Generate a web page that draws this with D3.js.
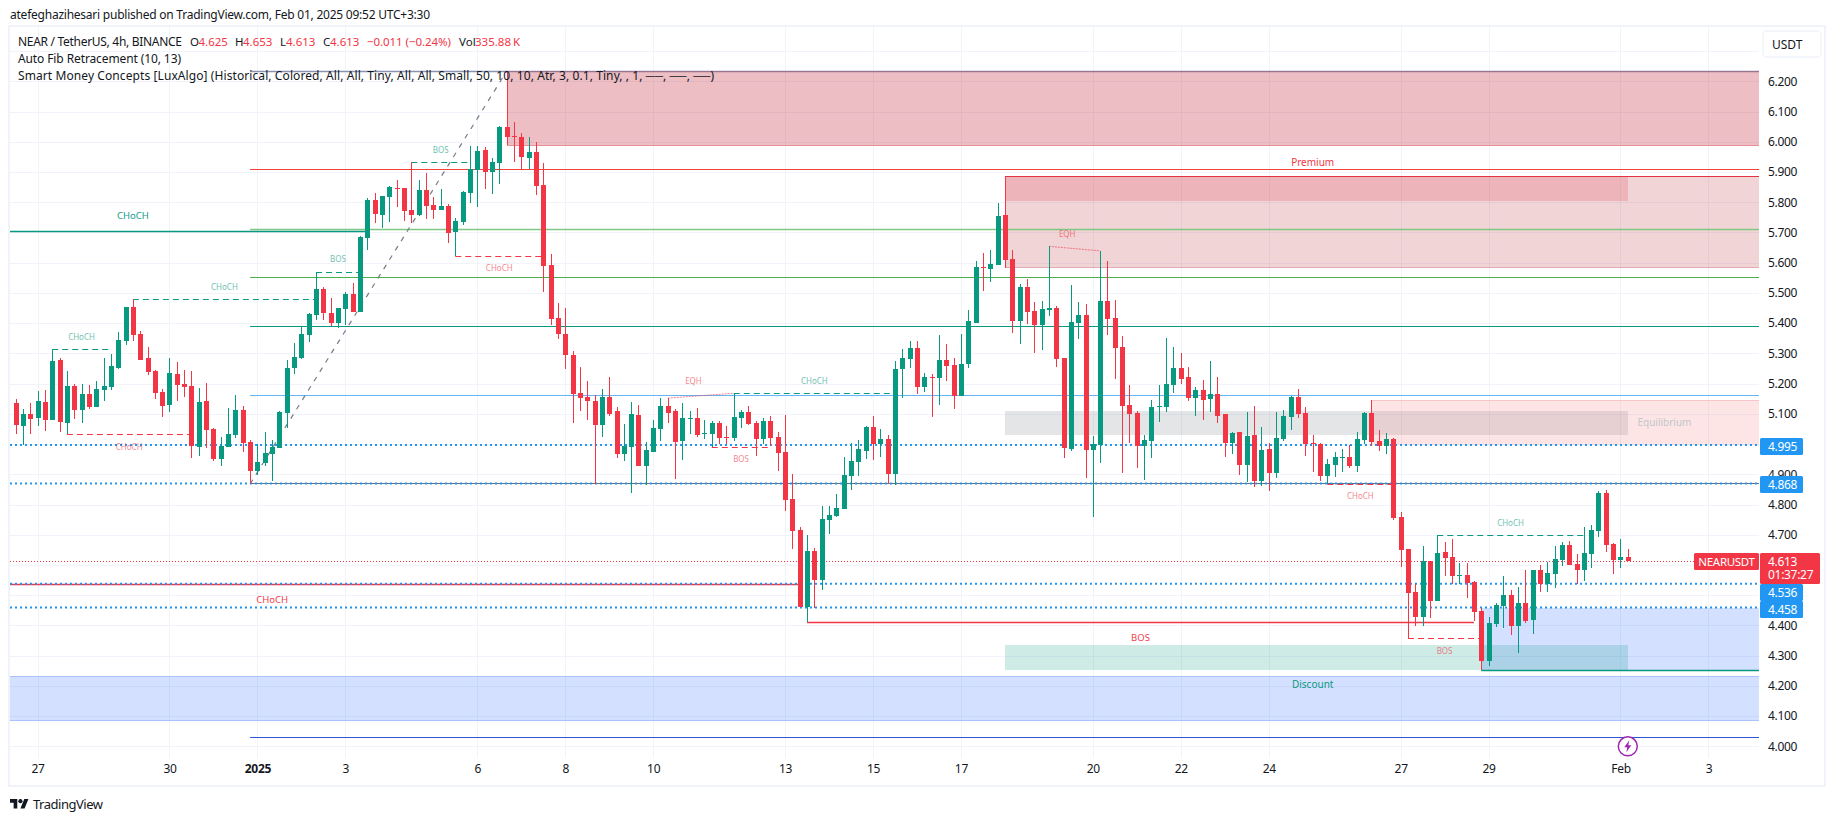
<!DOCTYPE html>
<html>
<head>
<meta charset="utf-8">
<title>NEAR / TetherUS</title>
<script src="https://cdn.jsdelivr.net/npm/d3@7/dist/d3.min.js"></script>
<style>
  html, body { margin: 0; padding: 0; background: #fff; }
  svg { display: block; }
  text { font-family: "Noto Sans", sans-serif; fill: #131722; }
</style>
</head>
<body>
<div id="chart"></div>
<script>
// 4h candles, first bar is Dec 26 12:00
const opens = [
  5.136,5.060,5.099,5.086,5.139,5.080,5.278,5.070,5.192,5.113,
  5.166,5.123,5.179,5.189,5.252,5.341,5.453,5.364,5.285,5.242,
  5.172,5.129,5.232,5.199,5.192,4.990,5.142,5.050,4.951,4.990,
  5.030,5.113,5.007,4.911,4.937,4.967,4.987,5.103,5.252,5.285,
  5.361,5.427,5.513,5.434,5.400,5.447,5.496,5.437,5.682,5.807,
  5.758,5.817,5.847,5.847,5.774,5.758,5.840,5.791,5.774,5.787,
  5.701,5.735,5.830,5.906,5.973,5.900,5.930,6.049,6.019,6.016,
  5.946,5.966,5.857,5.592,5.417,5.364,5.295,5.169,5.156,5.142,
  5.063,5.156,5.109,4.967,4.990,5.096,4.927,4.974,5.050,5.126,
  5.109,5.010,5.083,5.086,5.033,5.033,5.070,5.023,5.020,5.086,
  5.106,5.070,5.017,5.076,5.023,4.974,4.818,4.716,4.461,4.646,
  4.550,4.749,4.762,4.785,4.894,4.941,4.977,5.056,5.000,5.017,
  4.901,5.248,5.281,5.318,5.189,5.222,5.218,5.278,5.262,5.159,
  5.265,5.400,5.586,5.579,5.592,5.758,5.612,5.407,5.520,5.440,
  5.394,5.443,5.450,5.285,4.984,5.400,5.427,4.980,4.997,5.473,
  5.417,5.321,5.129,5.103,4.994,5.010,5.123,5.123,5.195,5.252,
  5.222,5.152,5.179,5.149,5.166,5.099,5.003,5.040,4.931,5.030,
  4.878,4.984,4.904,5.017,5.090,5.156,5.103,5.003,5.000,4.894,
  4.931,4.954,4.957,4.927,5.013,5.103,5.010,4.994,5.017,4.759,
  4.653,4.511,4.428,4.613,4.481,4.643,4.626,4.564,4.567,4.544,
  4.448,4.282,4.405,4.464,4.501,4.398,4.474,4.418,4.583,4.537,
  4.570,4.617,4.666,4.603,4.583,4.636,4.712,4.838,4.669,4.617,4.625
]
const highs = [
  5.149,5.116,5.136,5.176,5.179,5.313,5.285,5.242,5.199,5.199,
  5.195,5.209,5.285,5.298,5.371,5.453,5.479,5.374,5.321,5.245,
  5.182,5.285,5.271,5.245,5.242,5.185,5.202,5.053,5.023,5.119,
  5.162,5.126,5.013,5.000,5.040,5.013,5.109,5.278,5.334,5.390,
  5.434,5.570,5.518,5.483,5.450,5.504,5.533,5.688,5.814,5.831,
  5.821,5.854,5.874,5.847,5.933,5.874,5.897,5.817,5.844,5.794,
  5.748,5.837,5.986,5.986,5.983,5.946,6.052,6.233,6.065,6.029,
  6.016,5.999,5.930,5.629,5.467,5.450,5.308,5.255,5.209,5.162,
  5.182,5.222,5.123,5.066,5.139,5.129,5.007,5.080,5.152,5.152,
  5.116,5.136,5.109,5.119,5.080,5.076,5.076,5.060,5.168,5.113,
  5.126,5.076,5.086,5.093,5.040,5.096,4.901,4.726,4.699,4.656,
  4.795,4.795,4.835,4.957,5.003,5.013,5.060,5.093,5.050,5.030,
  5.275,5.314,5.341,5.341,5.235,5.232,5.361,5.331,5.285,5.364,
  5.443,5.606,5.632,5.642,5.797,5.887,5.642,5.529,5.546,5.470,
  5.473,5.654,5.457,5.285,5.526,5.470,5.463,5.027,5.639,5.605,
  5.476,5.357,5.195,5.109,5.030,5.146,5.195,5.351,5.321,5.301,
  5.255,5.189,5.212,5.275,5.222,5.099,5.040,5.040,5.106,5.126,
  5.056,5.003,5.106,5.113,5.159,5.182,5.123,5.030,5.003,4.951,
  4.974,4.984,4.997,5.040,5.106,5.146,5.046,5.037,5.020,4.775,
  4.653,4.537,4.664,4.613,4.698,4.676,4.686,4.607,4.607,4.547,
  4.458,4.428,4.474,4.564,4.517,4.527,4.583,4.583,4.600,4.610,
  4.663,4.676,4.679,4.636,4.726,4.732,4.845,4.848,4.673,4.686,4.653
]
const lows = [
  5.033,4.997,5.033,5.060,5.043,5.078,5.040,5.032,5.083,5.070,
  5.116,5.123,5.142,5.179,5.248,5.328,5.341,5.278,5.228,5.149,
  5.090,5.106,5.142,5.156,4.954,4.960,4.987,4.944,4.927,4.990,
  5.020,4.974,4.869,4.898,4.927,4.878,4.987,5.053,5.232,5.281,
  5.338,5.410,5.410,5.391,5.384,5.394,5.437,5.437,5.642,5.731,
  5.715,5.735,5.784,5.738,5.731,5.754,5.744,5.744,5.774,5.665,
  5.622,5.725,5.797,5.784,5.844,5.827,5.860,5.989,5.933,5.907,
  5.910,5.824,5.503,5.394,5.348,5.248,5.070,5.109,5.080,4.869,
  5.023,5.093,4.954,4.944,4.838,4.927,4.865,4.974,5.010,5.070,
  4.884,4.947,5.033,5.023,5.017,4.990,5.000,5.000,5.010,5.053,
  5.063,4.960,5.000,4.994,4.911,4.779,4.653,4.461,4.412,4.458,
  4.517,4.702,4.759,4.785,4.848,4.894,4.951,4.947,4.957,4.869,
  4.865,5.152,5.252,5.166,5.172,5.090,5.129,5.209,5.116,5.159,
  5.252,5.400,5.506,5.536,5.592,5.582,5.367,5.331,5.397,5.301,
  5.311,5.424,5.255,4.954,4.977,5.348,4.888,4.759,4.937,5.361,
  5.215,4.904,5.003,4.921,4.881,4.954,5.073,5.106,5.169,5.199,
  5.142,5.093,5.080,5.106,5.070,4.957,4.967,4.898,4.874,4.858,
  4.861,4.845,4.888,5.010,5.046,5.086,4.960,4.907,4.878,4.868,
  4.891,4.907,4.921,4.907,5.000,4.994,4.977,4.967,4.749,4.593,
  4.357,4.398,4.398,4.425,4.481,4.564,4.537,4.537,4.491,4.415,
  4.253,4.266,4.395,4.392,4.368,4.309,4.408,4.372,4.511,4.511,
  4.524,4.597,4.600,4.537,4.547,4.590,4.693,4.643,4.570,4.590,4.613
]
const closes = [
  5.063,5.099,5.083,5.142,5.080,5.275,5.073,5.192,5.113,5.166,
  5.123,5.182,5.192,5.258,5.344,5.453,5.361,5.278,5.238,5.169,
  5.126,5.235,5.195,5.189,4.994,5.139,5.046,4.951,4.994,5.033,
  5.113,5.003,4.911,4.941,4.970,4.990,5.106,5.252,5.288,5.364,
  5.430,5.513,5.434,5.400,5.450,5.496,5.437,5.685,5.807,5.761,
  5.821,5.850,5.845,5.771,5.758,5.840,5.787,5.774,5.787,5.698,
  5.738,5.834,5.910,5.969,5.900,5.933,6.049,6.016,6.017,5.950,
  5.966,5.854,5.589,5.414,5.364,5.295,5.166,5.152,5.142,5.063,
  5.156,5.099,4.967,4.994,5.099,4.927,4.980,5.053,5.126,5.103,
  5.007,5.086,5.086,5.030,5.037,5.070,5.020,5.020,5.090,5.106,
  5.066,5.017,5.076,5.020,4.970,4.815,4.712,4.461,4.646,4.550,
  4.752,4.765,4.788,4.898,4.944,4.984,5.056,5.000,5.017,4.901,
  5.248,5.285,5.318,5.189,5.222,5.218,5.278,5.258,5.159,5.265,
  5.407,5.586,5.584,5.596,5.754,5.609,5.407,5.520,5.437,5.394,
  5.447,5.450,5.281,4.987,5.404,5.427,4.980,5.000,5.473,5.414,
  5.318,5.126,5.099,4.994,5.013,5.123,5.126,5.199,5.252,5.215,
  5.152,5.179,5.146,5.166,5.093,5.003,5.037,4.931,5.027,4.878,
  4.980,4.904,5.020,5.093,5.156,5.099,5.000,5.000,4.894,4.934,
  4.957,4.957,4.927,5.017,5.103,5.007,4.994,5.017,4.755,4.650,
  4.507,4.428,4.613,4.481,4.640,4.623,4.564,4.567,4.540,4.445,
  4.282,4.408,4.468,4.501,4.398,4.474,4.415,4.583,4.537,4.574,
  4.620,4.666,4.600,4.583,4.640,4.716,4.838,4.666,4.617,4.626,4.613
]

// axis ticks: bar index of each day gridline and its label
const timeTickBars = [3, 21, 33, 45, 63, 75, 87, 105, 117, 129, 147, 159, 171, 189, 201, 219, 231]
const timeTickLabels = ["27", "30", "2025", "3", "6", "8", "10", "13", "15", "17", "20", "22", "24", "27", "29", "Feb", "3"]
const priceTicks = [4.0, 4.1, 4.2, 4.3, 4.4, 4.5, 4.6, 4.7, 4.8, 4.9, 5.0, 5.1, 5.2, 5.3, 5.4, 5.5, 5.6, 5.7, 5.8, 5.9, 6.0, 6.1, 6.2, 6.3]
// these sit behind the price tags in the picture, so no label is shown for them
const hiddenPriceLabels = [4.5, 4.6, 5.0, 6.3]

// auto fib levels
const fibPrices = [6.233, 5.911, 5.712, 5.552, 5.390, 5.161, 4.870, 4.030]
const fibAnchorBars = [32, 67]
const fibAnchorPrices = [4.868, 6.233]

// horizontal dotted levels
const dottedLevels = [4.995, 4.868, 4.536, 4.458]
const lastPrice = 4.613

// internal structure breaks (tiny dashed)
const internalLabels = ["CHoCH", "CHoCH", "BOS", "BOS", "CHoCH", "CHoCH", "CHoCH", "BOS", "CHoCH", "CHoCH", "BOS"]
const internalFrom = [5, 16, 41, 54, 7, 60, 98, 95, 179, 194, 190]
const internalTo = [13, 41, 47, 62, 24, 72, 120, 103, 188, 214, 200]
const internalPrice = [5.313, 5.479, 5.570, 5.932, 5.032, 5.623, 5.168, 4.990, 4.869, 4.698, 4.357]
const internalBull = [true, true, true, true, false, false, true, false, false, true, false]

// swing structure breaks (solid)
const swingLabels = ["CHoCH", "CHoCH", "BOS"]
const swingFrom = [-16, -37, 108]
const swingTo = [48, 107, 199]
const swingPrice = [5.704, 4.536, 4.412]
const swingBull = [true, false, false]

// equal highs
const eqhFromBar = [89, 141]
const eqhToBar = [98, 148]
const eqhFromPrice = [5.152, 5.654]
const eqhToPrice = [5.168, 5.639]

// zones, bar range and price range
const zoneNames = ["obTop", "premiumOuter", "premiumInner", "equilibriumBox", "pinkBox", "blueBox", "greenBox", "discountBand"]
const zoneFrom = [67, 135, 135, 135, 185, 200, 135, -2]
const zoneTo = [238, 238, 220, 220, 238, 238, 220, 238]
const zoneHigh = [6.233, 5.887, 5.887, 5.110, 5.145, 4.458, 4.335, 4.233]
const zoneLow = [5.990, 5.585, 5.804, 5.031, 4.996, 4.250, 4.254, 4.086]

const priceTags = [4.995, 4.868, 4.536, 4.458]

const width = 1835
const height = 821
const paneLeft = 10
const paneRight = 1759
const paneTop = 27
const paneBottom = 758

const GREEN = "#089981"
const RED = "#f23645"
const BLUE = "#2196f3"

const fibColors = ["#8b93b5", "#f44336", "#81c784", "#4caf50", "#089981", "#64b5f6", "#6b6e7a", "#2f55d4"]
const zoneFills = ["rgba(195,40,55,0.3)", "rgba(178,40,51,0.2)", "rgba(225,54,69,0.2)", "rgba(120,123,134,0.2)",
  "rgba(247,124,128,0.2)", "rgba(41,98,255,0.2)", "rgba(8,153,129,0.2)", "rgba(41,98,255,0.2)"]
const zoneTopEdge = [null, "#e5303f", null, null, "#f9c5c8", null, null, "#a9c4fb"]
const zoneBottomEdge = ["#e88f97", "#e3a9ae", null, null, null, null, null, "#a9c4fb"]

const x = d3.scaleLinear().domain([0, 220]).range([15.6, 1627.8])
const y = d3.scaleLinear().domain([3.9615, 6.3796]).range([paneBottom, paneTop])

const svg = d3.select("#chart").append("svg").attr("width", width).attr("height", height)

svg.append("rect").attr("width", width).attr("height", height).attr("fill", "#fff")

// outer frame
svg.append("rect")
  .attr("x", 9).attr("y", 26).attr("width", 1816).attr("height", 760)
  .attr("fill", "none").attr("stroke", "#f0f3fa").attr("stroke-width", 2)

svg.append("clipPath").attr("id", "pane").append("rect")
  .attr("x", paneLeft).attr("y", paneTop)
  .attr("width", paneRight - paneLeft).attr("height", paneBottom - paneTop)

const pane = svg.append("g").attr("clip-path", "url(#pane)")

// Grid
pane.append("g").selectAll("line").data(priceTicks).enter().append("line")
  .attr("x1", paneLeft).attr("x2", paneRight)
  .attr("y1", d => Math.round(y(d)) + 0.5).attr("y2", d => Math.round(y(d)) + 0.5)
  .attr("stroke", "#f0f3fa")
pane.append("g").selectAll("line").data(timeTickBars).enter().append("line")
  .attr("x1", d => Math.round(x(d)) + 0.5).attr("x2", d => Math.round(x(d)) + 0.5)
  .attr("y1", paneTop).attr("y2", paneBottom)
  .attr("stroke", "#f0f3fa")

// Fib top line sits under the zones
function hLine(g, fromX, toX, price, color, w, dash) {
  const py = Math.round(y(price)) + 0.5
  return g.append("line")
    .attr("x1", fromX).attr("x2", toX).attr("y1", py).attr("y2", py)
    .attr("stroke", color).attr("stroke-width", w)
    .attr("stroke-dasharray", dash || null)
}

fibPrices.forEach((p, i) => {
  if (i === 0) hLine(pane, x(fibAnchorBars[0]), paneRight, p, fibColors[i], 1.5)
})

// Zones
zoneNames.forEach((name, i) => {
  const x0 = Math.round(x(zoneFrom[i]))
  const x1 = Math.round(x(zoneTo[i]))
  const top = Math.round(y(zoneHigh[i]))
  const bottom = Math.round(y(zoneLow[i]))
  pane.append("rect")
    .attr("class", name)
    .attr("x", x0).attr("y", top).attr("width", x1 - x0).attr("height", bottom - top)
    .attr("fill", zoneFills[i])
  if (zoneTopEdge[i]) hLine(pane, x0, x1, zoneHigh[i], zoneTopEdge[i], 1)
  if (zoneBottomEdge[i]) hLine(pane, x0, x1, zoneLow[i], zoneBottomEdge[i], 1)
})

// Fib levels and dashed anchor line
fibPrices.forEach((p, i) => {
  if (i > 0) hLine(pane, x(fibAnchorBars[0]), paneRight, p, fibColors[i], i === 2 ? 1.5 : 1.2)
})
pane.append("line")
  .attr("x1", x(fibAnchorBars[0])).attr("y1", y(fibAnchorPrices[0]))
  .attr("x2", x(fibAnchorBars[1])).attr("y2", y(fibAnchorPrices[1]))
  .attr("stroke", "#787b86").attr("stroke-width", 1.2).attr("stroke-dasharray", "5 6")

// Swing lines, the teal one closes the blue box
swingLabels.forEach((_, i) => {
  hLine(pane, x(swingFrom[i]), x(swingTo[i]), swingPrice[i], swingBull[i] ? GREEN : RED, 1.4)
})
hLine(pane, x(200), paneRight, 4.251, GREEN, 1.5)

// Dotted levels
dottedLevels.forEach(p => {
  pane.append("line")
    .attr("x1", paneLeft).attr("x2", paneRight)
    .attr("y1", y(p) - 0.5).attr("y2", y(p) - 0.5)
    .attr("stroke", BLUE).attr("stroke-width", 2).attr("stroke-dasharray", "2 3")
})
pane.append("line")
  .attr("x1", paneLeft).attr("x2", paneRight)
  .attr("y1", Math.round(y(lastPrice)) + 0.5).attr("y2", Math.round(y(lastPrice)) + 0.5)
  .attr("stroke", RED).attr("stroke-dasharray", "1 2")

// Internal dashed lines
internalLabels.forEach((_, i) => {
  hLine(pane, x(internalFrom[i]), x(internalTo[i]), internalPrice[i], internalBull[i] ? GREEN : RED, 1, "6 4")
})

// EQH dotted connectors
eqhFromBar.forEach((b, i) => {
  pane.append("line")
    .attr("x1", x(b)).attr("y1", y(eqhFromPrice[i]))
    .attr("x2", x(eqhToBar[i])).attr("y2", y(eqhToPrice[i]))
    .attr("stroke", RED).attr("stroke-width", 1).attr("stroke-dasharray", "2 1").attr("opacity", 0.6)
})

// Candles
const bars = d3.range(opens.length)
const candles = pane.append("g").attr("shape-rendering", "crispEdges")
candles.selectAll(".wick").data(bars).enter().append("rect")
  .attr("class", "wick")
  .attr("x", i => Math.round(x(i)))
  .attr("y", i => Math.round(y(highs[i])))
  .attr("width", 1)
  .attr("height", i => Math.max(1, Math.round(y(lows[i])) - Math.round(y(highs[i]))))
  .attr("fill", i => closes[i] >= opens[i] ? GREEN : RED)
candles.selectAll(".body").data(bars).enter().append("rect")
  .attr("class", "body")
  .attr("x", i => Math.round(x(i)) - 2)
  .attr("y", i => Math.round(y(Math.max(opens[i], closes[i]))))
  .attr("width", 5)
  .attr("height", i => Math.max(1, Math.round(y(Math.min(opens[i], closes[i]))) - Math.round(y(Math.max(opens[i], closes[i])))))
  .attr("fill", i => closes[i] >= opens[i] ? GREEN : RED)

// Structure labels
function structLabel(text, from, to, price, bull, size, gap, opacity, color) {
  pane.append("text")
    .attr("x", x((from + to) / 2))
    .attr("y", y(price) + (bull ? -gap : gap))
    .attr("dy", "0.35em")
    .attr("text-anchor", "middle")
    .attr("font-size", size)
    .style("fill", color || (bull ? GREEN : RED))
    .attr("opacity", opacity)
    .text(text)
}
internalLabels.forEach((t, i) => {
  structLabel(t, internalFrom[i], internalTo[i], internalPrice[i], internalBull[i], 8, 12.5, 0.6)
})
swingLabels.forEach((t, i) => {
  structLabel(t, swingFrom[i], swingTo[i], swingPrice[i], swingBull[i], 9.5, 15.5, 0.95)
})
eqhFromBar.forEach((b, i) => {
  structLabel("EQH", b - 1, eqhToBar[i] - 1, Math.max(eqhFromPrice[i], eqhToPrice[i]), true, 8, 12.5, 0.6, RED)
})

// Zone captions
function caption(text, bar, price, color) {
  pane.append("text")
    .attr("x", x(bar)).attr("y", y(price)).attr("dy", "0.35em")
    .attr("text-anchor", "middle").attr("font-size", 10)
    .style("fill", color)
    .text(text)
}
caption("Premium", 177, 5.933, RED)
caption("Equilibrium", 225, 5.072, "#c3c5cb")
caption("Discount", 177, 4.203, GREEN)

// Price axis
const priceAxis = d3.axisRight(y)
  .tickValues(priceTicks.filter(p => !hiddenPriceLabels.includes(p)))
  .tickFormat(d3.format(".3f")).tickSize(0).tickPadding(0)
const priceG = svg.append("g").attr("transform", "translate(1768,0)").call(priceAxis)
priceG.select(".domain").remove()
priceG.selectAll("text")
  .attr("font-size", 12).attr("font-family", null).attr("letter-spacing", -0.3)
  .style("fill", "#131722")

// Time axis
const timeAxis = d3.axisBottom(x).tickValues(timeTickBars)
  .tickFormat((_, i) => timeTickLabels[i]).tickSize(0).tickPadding(0)
const timeG = svg.append("g").attr("transform", "translate(0,764)").call(timeAxis)
timeG.select(".domain").remove()
timeG.selectAll("text")
  .attr("font-size", 12).attr("font-family", null).attr("letter-spacing", -0.3)
  .style("font-weight", d => d === 33 ? 700 : 400)
  .style("fill", "#131722")

// Price tags, pushed apart where they would overlap
function tagBox(top, h, w, color, lines) {
  svg.append("rect").attr("x", 1760).attr("y", top).attr("width", w).attr("height", h).attr("rx", 1.5).attr("fill", color)
  lines.forEach((t, i) => {
    svg.append("text").attr("x", 1768).attr("y", top + 8.5 + i * 13.6).attr("dy", "0.35em")
      .attr("font-size", 12).attr("letter-spacing", -0.3).style("fill", "#fff").text(t)
  })
}
const lastTop = Math.round(y(lastPrice)) - 8
let prevBottom = 0
priceTags.forEach(p => {
  let top = Math.round(y(p)) - 8
  if (p < lastPrice) top = Math.max(top, lastTop + 31)
  if (top < prevBottom) top = prevBottom
  tagBox(top, 17, 43, BLUE, [d3.format(".3f")(p)])
  prevBottom = top + 17
})
tagBox(lastTop, 31, 60, RED, [d3.format(".3f")(lastPrice), "01:37:27"])
svg.append("rect").attr("x", 1694).attr("y", lastTop).attr("width", 65).attr("height", 17).attr("rx", 1.5).attr("fill", RED)
svg.append("text").attr("x", 1726.5).attr("y", lastTop + 8.5).attr("dy", "0.35em")
  .attr("text-anchor", "middle").attr("font-size", 11.5).attr("letter-spacing", -0.3).style("fill", "#fff").text("NEARUSDT")

// Currency button
svg.append("rect").attr("x", 1763).attr("y", 31).attr("width", 58).attr("height", 26).attr("rx", 4)
  .attr("fill", "#fff").attr("stroke", "#f0f3fa").attr("stroke-width", 1.5)
svg.append("text").attr("x", 1772).attr("y", 44.5).attr("dy", "0.35em").attr("font-size", 12).text("USDT")

// Lightning marker
const bolt = svg.append("g").attr("transform", `translate(${x(220)},${y(4)})`)
bolt.append("circle").attr("r", 9.5).attr("fill", "#fff").attr("stroke", "#9c27b0").attr("stroke-width", 1.5)
bolt.append("path").attr("d", "M1.5,-6 L-3.5,1 L-0.5,1 L-1.5,6 L3.5,-1 L0.5,-1 Z").attr("fill", "#9c27b0")

// Header and legends, long strings are fitted to their width in the picture
function legendText(tx, ty, text, color, size, fit) {
  svg.append("text").attr("x", tx).attr("y", ty).attr("dy", "0.35em")
    .attr("font-size", size || 11.5).style("fill", color || "#131722")
    .attr("textLength", fit || null).attr("lengthAdjust", fit ? "spacing" : null)
    .text(text)
}
legendText(10, 14.7, "atefeghazihesari published on TradingView.com, Feb 01, 2025 09:52 UTC+3:30", null, 12, 420)
legendText(18, 41.7, "NEAR / TetherUS, 4h, BINANCE", null, 12, 164)
legendText(190, 41.7, "O")
legendText(198.5, 41.7, "4.625", RED)
legendText(235, 41.7, "H")
legendText(243, 41.7, "4.653", RED)
legendText(280, 41.7, "L")
legendText(286, 41.7, "4.613", RED)
legendText(323, 41.7, "C")
legendText(330, 41.7, "4.613", RED)
legendText(367, 41.7, "\u22120.011 (\u22120.24%)", RED, null, 84)
legendText(459, 41.7, "Vol")
legendText(475, 41.7, "335.88\u2009K", RED, null, 45)
legendText(18, 59, "Auto Fib Retracement (10, 13)", null, 12, 163)
legendText(18, 76, "Smart Money Concepts [LuxAlgo] (Historical, Colored, All, All, Tiny, All, All, Small, 50, 10, 10, Atr, 3, 0.1, Tiny, , 1, \u2500\u2500, \u2500\u2500, \u2500\u2500)", null, 12, 696)

// TradingView logo
svg.append("path")
  .attr("d", "M14 22H7V11H0V4h14v18zM28 22h-8l7.5-18h8L28 22z")
  .attr("transform", "translate(10,797) scale(0.52)")
  .attr("fill", "#131722")
svg.append("circle").attr("cx", 10 + 20 * 0.52).attr("cy", 797 + 8 * 0.52).attr("r", 2.1).attr("fill", "#131722")
legendText(33, 804, "TradingView", "#131722", 13, 70)
</script>
</body>
</html>
